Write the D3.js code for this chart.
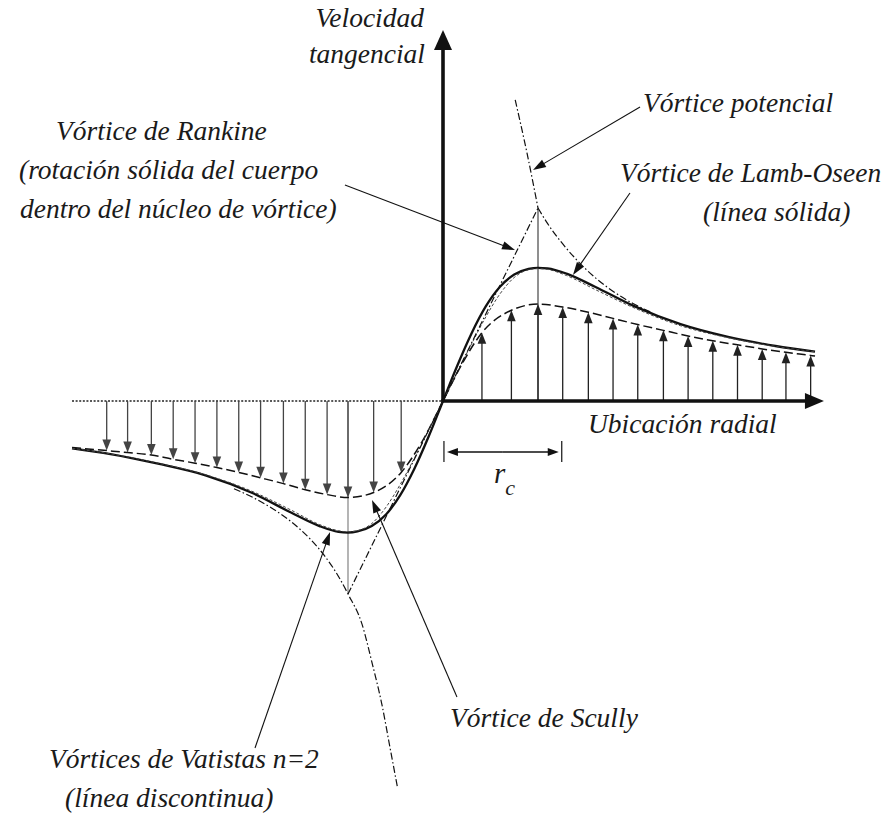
<!DOCTYPE html>
<html>
<head>
<meta charset="utf-8">
<script src="https://cdn.jsdelivr.net/npm/d3@7"></script>
<style>
  html, body { margin: 0; padding: 0; background: #ffffff; }
  svg { display: block; }
</style>
</head>
<body>
<svg id="chart" width="889" height="818"></svg>
<script>
// Radial position in core radii (r / rc); tangential velocity relative to the Rankine peak.

// Lamb-Oseen vortex (solid line)
const lambOseenR = [-3.905, -3.5, -3.0, -2.5, -2.0, -1.6, -1.3, -1.1, -1.0, -0.9, -0.75, -0.6, -0.45, -0.3, -0.15, 0,
                    0.15, 0.3, 0.45, 0.6, 0.75, 0.9, 1.0, 1.1, 1.3, 1.6, 2.0, 2.5, 3.0, 3.5, 3.916];
const lambOseenV = [-0.245, -0.275, -0.325, -0.385, -0.478, -0.578, -0.648, -0.678, -0.682, -0.676, -0.648, -0.588, -0.488, -0.35, -0.183, 0,
                    0.183, 0.35, 0.49, 0.592, 0.655, 0.684, 0.69, 0.687, 0.66, 0.592, 0.494, 0.398, 0.332, 0.285, 0.256];

// Vatistas n=2 vortex (fine dashed line)
const vatistasR = [-3.905, -3.5, -3.0, -2.5, -2.0, -1.6, -1.3, -1.1, -1.0, -0.9, -0.75, -0.6, -0.45, -0.3, -0.15, 0,
                   0.15, 0.3, 0.45, 0.6, 0.75, 0.9, 1.0, 1.1, 1.3, 1.6, 2.0, 2.5, 3.0, 3.5, 3.916];
const vatistasV = [-0.245, -0.274, -0.322, -0.382, -0.47, -0.565, -0.64, -0.672, -0.678, -0.672, -0.635, -0.55, -0.432, -0.295, -0.15, 0,
                   0.15, 0.295, 0.435, 0.555, 0.64, 0.68, 0.686, 0.682, 0.65, 0.578, 0.485, 0.39, 0.328, 0.283, 0.255];

// Scully vortex (dashed line carrying the velocity arrows)
const scullyR = [-3.905, -3.54, -3.32, -3.07, -2.84, -2.61, -2.38, -2.15, -1.92, -1.68, -1.45, -1.22, -1.0, -0.73, -0.44, -0.22, 0,
                 0.2, 0.41, 0.72, 1.0, 1.26, 1.53, 1.79, 2.05, 2.32, 2.58, 2.84, 3.1, 3.36, 3.61, 3.87, 3.916];
const scullyV = [-0.241, -0.257, -0.267, -0.28, -0.302, -0.322, -0.345, -0.37, -0.398, -0.428, -0.46, -0.485, -0.5, -0.474, -0.37, -0.21, 0,
                 0.192, 0.354, 0.47, 0.502, 0.487, 0.46, 0.428, 0.396, 0.366, 0.337, 0.312, 0.291, 0.27, 0.252, 0.236, 0.233];

// Stations where velocity arrows are drawn (tips sit on the Scully profile)
const arrowR = [-3.54, -3.32, -3.07, -2.84, -2.61, -2.38, -2.15, -1.92, -1.68, -1.45, -1.22, -1.0, -0.73, -0.44,
                0.41, 0.72, 1.0, 1.26, 1.53, 1.79, 2.05, 2.32, 2.58, 2.84, 3.1, 3.36, 3.61, 3.87];

// Rankine vortex: solid-body rotation inside the core
const rankineR = [-1, 0, 1];
const rankineV = [-1, 0, 1];

// Potential vortex branches
const potentialNegR = [-2.2, -2.0, -1.8, -1.6, -1.4, -1.25, -1.1, -1.0, -0.85, -0.75, -0.64, -0.56, -0.48];
const potentialNegV = [-0.455, -0.5, -0.556, -0.625, -0.714, -0.8, -0.909, -1.0, -1.16, -1.35, -1.58, -1.79, -2.0];
const potentialPosR = [0.76, 0.82, 0.88, 0.94, 1.0, 1.1, 1.25, 1.4, 1.6, 1.8, 2.0, 2.2];
const potentialPosV = [1.56, 1.43, 1.295, 1.15, 1.0, 0.92, 0.82, 0.735, 0.64, 0.565, 0.505, 0.458];

// Axis extents (data units)
const xAxisMax = 4.01;
const yAxisMax = 1.922;
const baselineMin = -3.905;
const coreBracket = [0.01, 1.25];

const FONT = "'Liberation Serif'";

const svg = d3.select("#chart");
const x = d3.scaleLinear().domain([-1, 1]).range([348, 538]);
const y = d3.scaleLinear().domain([-1, 1]).range([594, 208]);

const zip = (rs, vs) => rs.map((r, i) => [r, vs[i]]);
const smooth = d3.line().x(d => x(d[0])).y(d => y(d[1])).curve(d3.curveMonotoneX);
const straight = d3.line().x(d => x(d[0])).y(d => y(d[1]));

function arrowHead(g, x1, y1, x2, y2, len, half, fill) {
  const a = Math.atan2(y2 - y1, x2 - x1);
  const bx = x2 - len * Math.cos(a), by = y2 - len * Math.sin(a);
  const px = -Math.sin(a) * half, py = Math.cos(a) * half;
  g.append("path")
    .attr("d", `M${x2},${y2}L${bx + px},${by + py}L${bx - px},${by - py}Z`)
    .attr("fill", fill);
}

function arrow(g, x1, y1, x2, y2, opts) {
  const len = opts.len, half = opts.half;
  const a = Math.atan2(y2 - y1, x2 - x1);
  g.append("line")
    .attr("x1", x1).attr("y1", y1)
    .attr("x2", x2 - (len - 1) * Math.cos(a)).attr("y2", y2 - (len - 1) * Math.sin(a))
    .attr("stroke", opts.color).attr("stroke-width", opts.width);
  arrowHead(g, x1, y1, x2, y2, len, half, opts.color);
}

// Dotted zero line on the negative side
svg.append("line")
  .attr("x1", x(baselineMin)).attr("y1", y(0))
  .attr("x2", x(0)).attr("y2", y(0))
  .attr("stroke", "#222").attr("stroke-width", 1.4)
  .attr("stroke-dasharray", "2,1.6");

// Core-radius verticals up to the Rankine peaks
const coreG = svg.append("g");
coreG.append("line")
  .attr("x1", x(1)).attr("y1", y(0)).attr("x2", x(1)).attr("y2", y(1))
  .attr("stroke", "#333").attr("stroke-width", 1.1);
coreG.append("line")
  .attr("x1", x(-1)).attr("y1", y(0)).attr("x2", x(-1)).attr("y2", y(-1))
  .attr("stroke", "#777").attr("stroke-width", 1.1);

// Velocity arrows
const arrowsG = svg.append("g");
arrowR.forEach(r => {
  const idx = scullyR.indexOf(r);
  const v = scullyV[idx];
  arrow(arrowsG, x(r), y(0), x(r), y(v), { len: 11, half: 4.3, color: r > 0 ? "#222" : "#444", width: 1.3 });
});

// Profiles
const curvesG = svg.append("g").attr("fill", "none");
curvesG.append("path").attr("d", smooth(zip(scullyR, scullyV)))
  .attr("stroke", "#111").attr("stroke-width", 1.5).attr("stroke-dasharray", "9,4");
curvesG.append("path").attr("d", smooth(zip(lambOseenR, lambOseenV)))
  .attr("stroke", "#111").attr("stroke-width", 2.3);
curvesG.append("path").attr("d", smooth(zip(vatistasR, vatistasV)))
  .attr("stroke", "#444").attr("stroke-width", 1.0).attr("stroke-dasharray", "3,2");
curvesG.append("path").attr("d", straight(zip(rankineR, rankineV)))
  .attr("stroke", "#111").attr("stroke-width", 1.2).attr("stroke-dasharray", "7,2.5,1.5,2.5");

const potNeg = zip(potentialNegR, potentialNegV);
const potPos = zip(potentialPosR, potentialPosV);
curvesG.append("path").attr("d", smooth(potNeg))
  .attr("stroke", "#111").attr("stroke-width", 1.2).attr("stroke-dasharray", "7,2.5,1.5,2.5");
curvesG.append("path").attr("d", smooth(potPos.filter(d => d[0] <= 1)))
  .attr("stroke", "#111").attr("stroke-width", 1.2).attr("stroke-dasharray", "7,2.5,1.5,2.5");
curvesG.append("path").attr("d", smooth(potPos.filter(d => d[0] >= 1)))
  .attr("stroke", "#111").attr("stroke-width", 1.2).attr("stroke-dasharray", "7,2.5,1.5,2.5");

// Axes
const axesG = svg.append("g");
axesG.append("line")
  .attr("x1", x(0)).attr("y1", y(0)).attr("x2", x(0)).attr("y2", y(yAxisMax) + 18)
  .attr("stroke", "#111").attr("stroke-width", 3.6);
arrowHead(axesG, x(0), y(0), x(0), y(yAxisMax), 20, 9, "#111");
axesG.append("line")
  .attr("x1", x(0) - 1.8).attr("y1", y(0)).attr("x2", x(xAxisMax) - 16).attr("y2", y(0))
  .attr("stroke", "#111").attr("stroke-width", 3.6);
arrowHead(axesG, x(0), y(0), x(xAxisMax), y(0), 19, 8, "#111");

// Core radius dimension
const dimG = svg.append("g");
const dimY = y(0) + 51;
[coreBracket[0], coreBracket[1]].forEach(r => {
  dimG.append("line").attr("x1", x(r)).attr("x2", x(r)).attr("y1", dimY - 11).attr("y2", dimY + 10)
    .attr("stroke", "#111").attr("stroke-width", 1.2);
});
const dimMid = (x(coreBracket[0]) + x(coreBracket[1])) / 2;
arrow(dimG, dimMid, dimY, x(coreBracket[0]) + 3, dimY, { len: 11, half: 4, color: "#111", width: 1.3 });
arrow(dimG, dimMid, dimY, x(coreBracket[1]) - 3, dimY, { len: 11, half: 4, color: "#111", width: 1.3 });

// Leader lines for the labels
const leaders = [
  { from: [2.074, 1.523], to: [0.947, 1.197] },    // potencial
  { from: [-1.032, 1.119], to: [0.758, 0.782] },   // Rankine
  { from: [1.968, 1.078], to: [1.368, 0.653] },    // Lamb-Oseen
  { from: [0.147, -1.534], to: [-0.747, -0.513] }, // Scully
  { from: [-1.979, -1.798], to: [-1.189, -0.679] } // Vatistas
];
const leadG = svg.append("g");
leaders.forEach(l => {
  arrow(leadG, x(l.from[0]), y(l.from[1]), x(l.to[0]), y(l.to[1]), { len: 13, half: 4.2, color: "#111", width: 1.1 });
});

// Labels
const fs = 27.5;
const labels = [
  { t: "Velocidad", x: 424, y: 27, anchor: "end" },
  { t: "tangencial", x: 425, y: 63, anchor: "end" },
  { t: "Vórtice potencial", x: 643, y: 112, anchor: "start" },
  { t: "Vórtice de Rankine", x: 56, y: 140, anchor: "start" },
  { t: "(rotación sólida del cuerpo", x: 19, y: 179, anchor: "start" },
  { t: "dentro del núcleo de vórtice)", x: 20, y: 218, anchor: "start" },
  { t: "Vórtice de Lamb-Oseen", x: 620, y: 182, anchor: "start" },
  { t: "(línea sólida)", x: 703, y: 221, anchor: "start" },
  { t: "Ubicación radial", x: 588, y: 433, anchor: "start" },
  { t: "Vórtice de Scully", x: 450, y: 727, anchor: "start" },
  { t: "Vórtices de Vatistas n=2", x: 49, y: 768, anchor: "start" },
  { t: "(línea discontinua)", x: 65, y: 807, anchor: "start" }
];
const textG = svg.append("g");
labels.forEach(l => {
  textG.append("text").attr("x", l.x).attr("y", l.y)
    .attr("text-anchor", l.anchor).attr("font-size", fs).attr("fill", "#1a1a1a")
    .style("font-family", FONT).style("font-style", "italic")
    .text(l.t);
});
const rc = textG.append("text").attr("x", 494).attr("y", 483).attr("font-size", 29).attr("fill", "#1a1a1a")
  .style("font-family", FONT).style("font-style", "italic");
rc.append("tspan").text("r");
rc.append("tspan").attr("font-size", 22).attr("dy", 12).text("c");
</script>
</body>
</html>
